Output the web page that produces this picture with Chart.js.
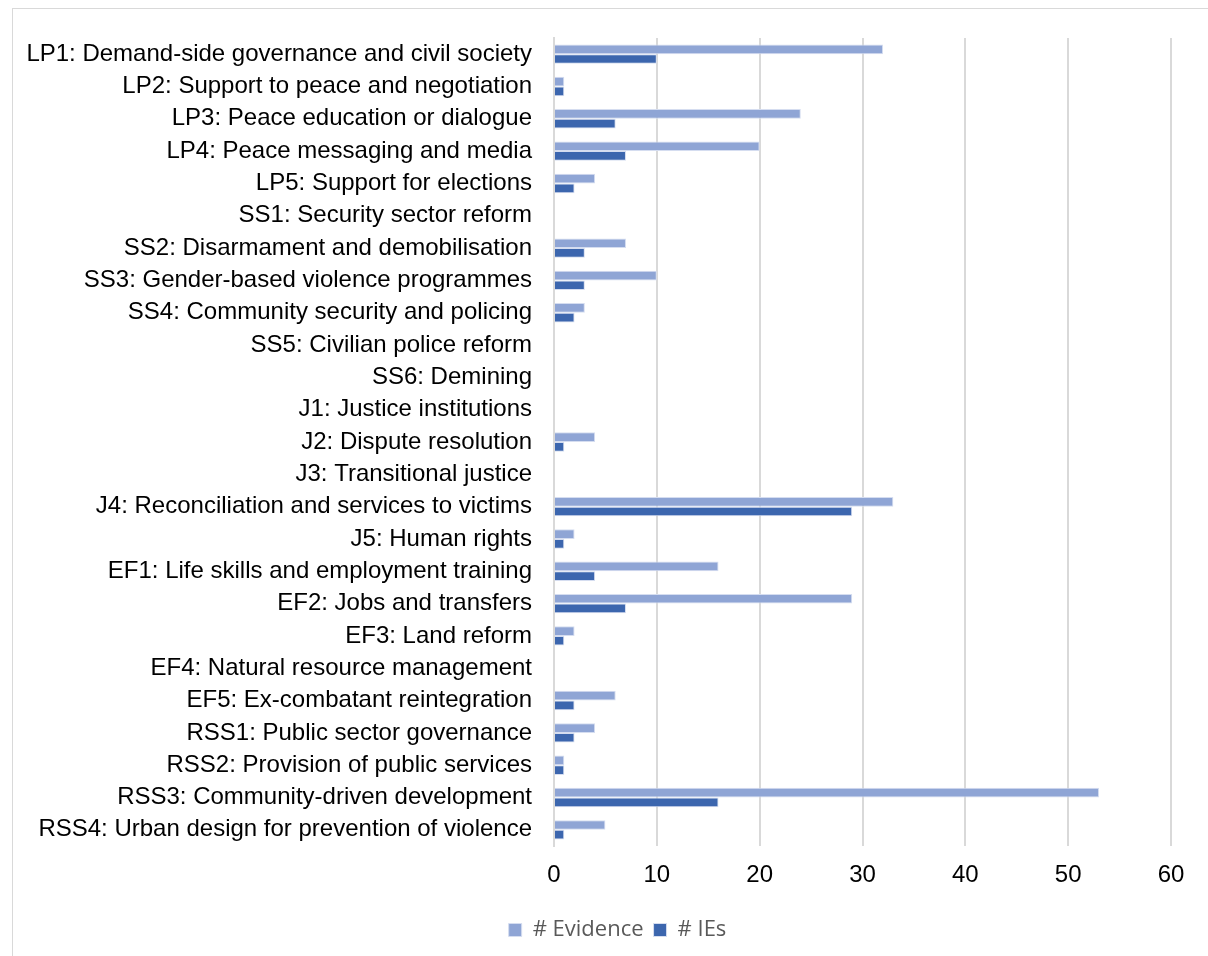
<!DOCTYPE html>
<html lang="en">
<head>
  <meta charset="UTF-8">
  <title>Evidence and IEs by intervention</title>
  <script src="https://cdn.jsdelivr.net/npm/chart.js@4"></script>
  <style>
    body { margin: 0; background: #fff; }
    #frame { position: absolute; left: 12px; top: 8px; width: 1220px; height: 970px; border: 1px solid #d9d9d9; }
    #wrap { position: absolute; left: 0; top: 0; width: 1208px; height: 956px; }
  </style>
</head>
<body>
<div id="frame"></div>
<div id="wrap"><canvas id="barChart"></canvas></div>

<script>
  const interventions = [
    'LP1: Demand-side governance and civil society',
    'LP2: Support to peace and negotiation',
    'LP3: Peace education or dialogue',
    'LP4: Peace messaging and media',
    'LP5: Support for elections',
    'SS1: Security sector reform',
    'SS2: Disarmament and demobilisation',
    'SS3: Gender-based violence programmes',
    'SS4: Community security and policing',
    'SS5: Civilian police reform',
    'SS6: Demining',
    'J1: Justice institutions',
    'J2: Dispute resolution',
    'J3: Transitional justice',
    'J4: Reconciliation and services to victims',
    'J5: Human rights',
    'EF1: Life skills and employment training',
    'EF2: Jobs and transfers',
    'EF3: Land reform',
    'EF4: Natural resource management',
    'EF5: Ex-combatant reintegration',
    'RSS1: Public sector governance',
    'RSS2: Provision of public services',
    'RSS3: Community-driven development',
    'RSS4: Urban design for prevention of violence'
  ];
  const evidenceCount = [32, 1, 24, 20, 4, 0, 7, 10, 3, 0, 0, 0, 4, 0, 33, 2, 16, 29, 2, 0, 6, 4, 1, 53, 5];
  const ieCount = [10, 1, 6, 7, 2, 0, 3, 3, 2, 0, 0, 0, 1, 0, 29, 1, 4, 7, 1, 0, 2, 2, 1, 16, 1];
  const xTicks = [0, 10, 20, 30, 40, 50, 60];

  const labelFont = { family: "'Liberation Sans', Arial", size: 24 };

  // the legend sits centred under the whole frame, not under the padded area
  const legendShift = {
    id: 'legendShift',
    afterLayout(chart) {
      chart.legend.left += 32;
      chart.legend.right += 32;
    }
  };

  const ctx = document.getElementById('barChart').getContext('2d');
  new Chart(ctx, {
    type: 'bar',
    data: {
      labels: interventions,
      datasets: [{
        label: '# Evidence',
        data: evidenceCount,
        backgroundColor: '#8fa5d5',
        borderColor: '#d5ddf0',
        borderWidth: 1
      }, {
        label: '# IEs',
        data: ieCount,
        backgroundColor: '#3c66ae',
        borderColor: '#d5ddf0',
        borderWidth: 1
      }]
    },
    options: {
      indexAxis: 'y',
      responsive: true,
      maintainAspectRatio: false,
      animation: false,
      categoryPercentage: 0.6,
      barPercentage: 1,
      layout: { padding: { left: 0, right: 37, top: 38, bottom: 5 } },
      scales: {
        x: {
          min: 0,
          max: 60,
          afterBuildTicks: (scale) => { scale.ticks = xTicks.map(v => ({ value: v })); },
          afterFit: (scale) => { scale.height = 63; },
          grid: { color: '#d9d9d9', lineWidth: 2, drawTicks: false },
          border: { display: false },
          ticks: { color: '#000', padding: 15, font: labelFont }
        },
        y: {
          afterFit: (scale) => { scale.width = 554; },
          grid: { display: false },
          border: { color: '#d9d9d9', width: 2 },
          ticks: { color: '#000', padding: 14, autoSkip: false, font: labelFont }
        }
      },
      plugins: {
        legend: {
          position: 'bottom',
          labels: {
            color: '#595959',
            boxWidth: 13,
            boxHeight: 13,
            padding: 10,
            font: { family: 'Open Sans', size: 22 }
          }
        },
        tooltip: { enabled: false }
      }
    },
    plugins: [legendShift]
  });
</script>
</body>
</html>
